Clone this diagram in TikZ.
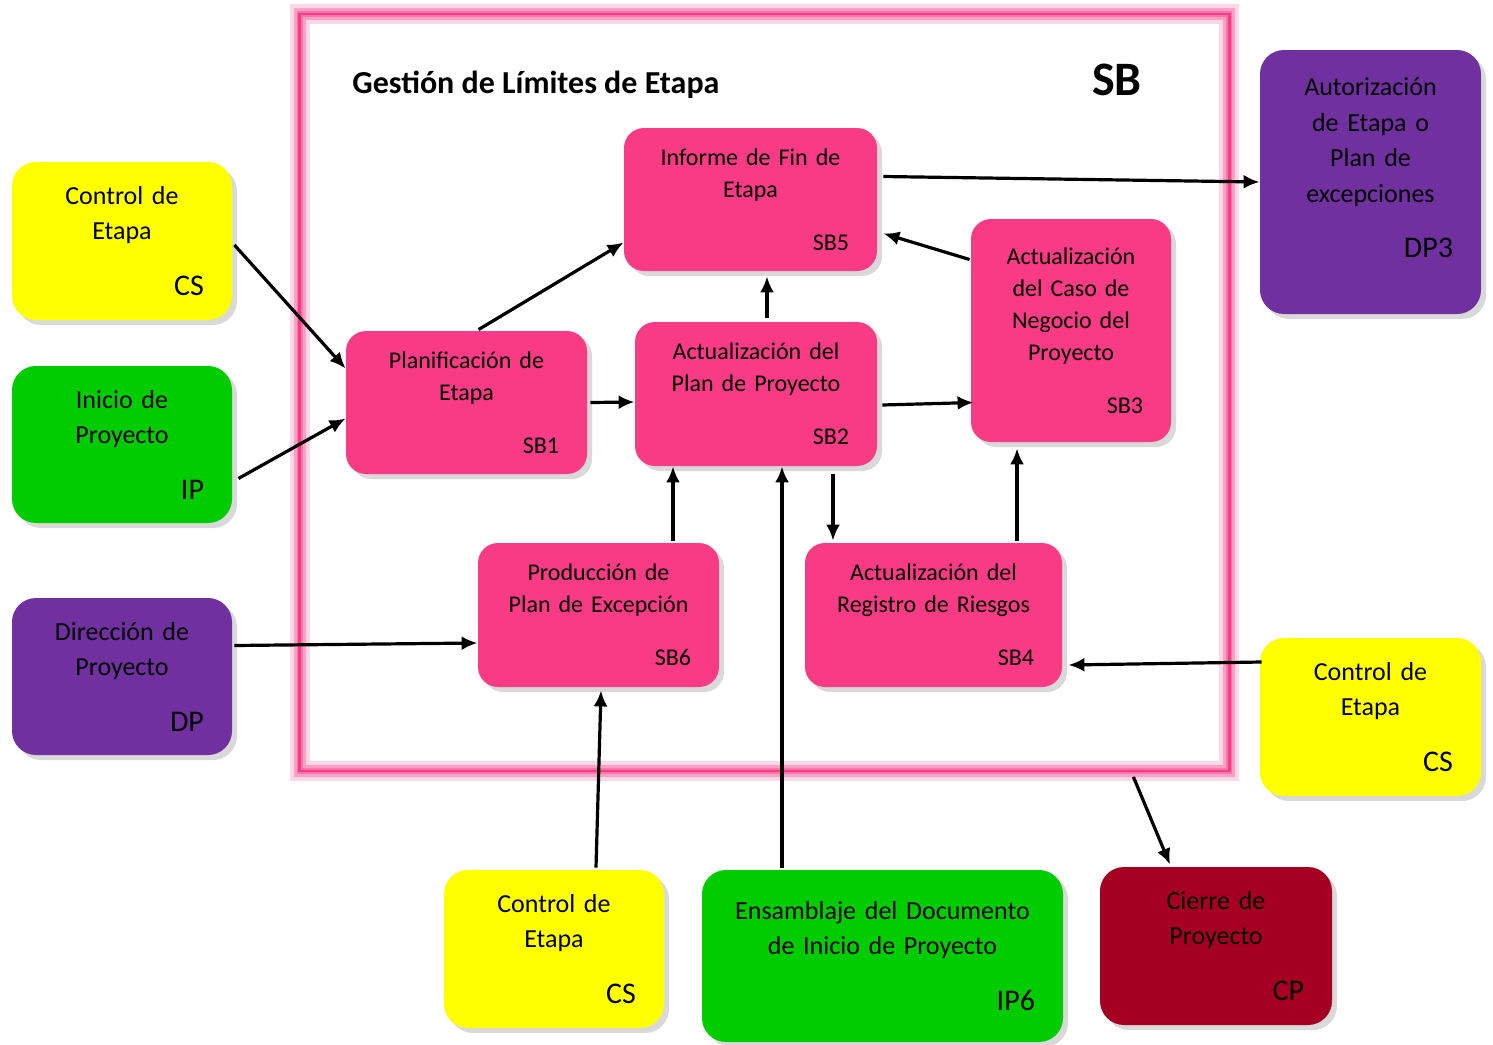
\documentclass[tikz,border=0pt]{standalone}
\usepackage{fontspec}
\setmainfont{Carlito}
\usepackage{tikz}
\usetikzlibrary{calc,shadows,arrows.meta}

\definecolor{rosa}{RGB}{249,58,133}
\definecolor{amarillo}{RGB}{255,255,0}
\definecolor{verde}{RGB}{0,204,0}
\definecolor{morado}{RGB}{112,48,160}
\definecolor{granate}{RGB}{165,0,33}
\definecolor{brillo}{RGB}{253,215,230}
\definecolor{brillomedio}{RGB}{250,160,196}
\definecolor{brillofuerte}{RGB}{248,120,170}

\newcommand{\codigo}[1]{\hspace*{\fill}#1}
\newcommand{\codigog}[1]{\hspace*{\fill}{\fontsize{15}{18}\selectfont #1}}

\tikzset{
  caja/.style={rounded corners=12pt, inner sep=0pt, align=center,
    font=\fontsize{13}{17.75}\selectfont,
    drop shadow={shadow xshift=2.5pt, shadow yshift=-2.5pt, opacity=0.3}},
  cajasb/.style={caja, fill=rosa, rounded corners=10pt,
    font=\fontsize{12}{16}\selectfont},
  flecha/.style={-{Latex[length=8pt,width=7pt]}, line width=1.6pt}
}

\begin{document}
\begin{tikzpicture}[x=0.5pt, y=-0.5pt]
            \useasboundingbox (0,0) rectangle (1493,1044);

            % marco SB
            \node[minimum width=464.5pt, minimum height=378pt, inner sep=0pt] (MARCO) at (764.5,392.5) {};
            \draw[brillo, line width=10pt] (MARCO.south west) rectangle (MARCO.north east);
            \draw[brillomedio, line width=6pt] (MARCO.south west) rectangle (MARCO.north east);
            \draw[brillofuerte, line width=3pt] (MARCO.south west) rectangle (MARCO.north east);
            \draw[rosa, line width=1.2pt] (MARCO.south west) rectangle (MARCO.north east);
            \node[anchor=base west, inner sep=0pt, font=\fontsize{16}{19}\selectfont\bfseries] (TITULO) at (352,93) {Gestión de Límites de Etapa};
            \node[anchor=base east, inner sep=0pt, font=\fontsize{24}{28}\selectfont\bfseries] (SB) at (1142,95) {SB};

            % procesos externos
            \node[caja, fill=amarillo, minimum width=110pt, minimum height=79pt, text width=82pt] (CS1) at (122,241) {Control de\\Etapa\\[10pt]\codigog{CS}};
            \node[caja, fill=verde, minimum width=110pt, minimum height=78.5pt, text width=82pt] (IP) at (122,444.5) {Inicio de\\Proyecto\\[10pt]\codigog{IP}};
            \node[caja, fill=morado, minimum width=110pt, minimum height=78.5pt, text width=82pt] (DP) at (122,676.5) {Dirección de\\Proyecto\\[10pt]\codigog{DP}};
            \node[caja, fill=morado, minimum width=110.5pt, minimum height=132pt, text width=82.5pt] (DP3) at (1370.5,182) {Autorización\\de Etapa o\\Plan de\\excepciones\\[10pt]\codigog{DP3}\rule[-14pt]{0pt}{14pt}};
            \node[caja, fill=amarillo, minimum width=110.5pt, minimum height=79pt, text width=82.5pt] (CSR) at (1370.5,717) {Control de\\Etapa\\[10pt]\codigog{CS}};
            \node[caja, fill=amarillo, minimum width=110pt, minimum height=79pt, text width=82pt] (CSB) at (554,949) {Control de\\Etapa\\[10pt]\codigog{CS}};
            \node[caja, fill=verde, minimum width=180.5pt, minimum height=86pt, text width=152.5pt] (IP6) at (882.5,956) {Ensamblaje del Documento\\de Inicio de Proyecto\\[10pt]\codigog{IP6}};
            \node[caja, fill=granate, minimum width=116pt, minimum height=79pt, text width=88pt] (CP) at (1216,946) {Cierre de\\Proyecto\\[10pt]\codigog{CP}};

            % subprocesos SB
            \node[cajasb, minimum width=126.5pt, minimum height=71.5pt, text width=98.5pt] (SB5) at (750.5,199.5) {Informe de Fin de\\Etapa\\[10.5pt]\codigo{SB5}};
            \node[cajasb, minimum width=120.5pt, minimum height=71.5pt, text width=92.5pt] (SB1) at (466.5,402.5) {Planificación de\\Etapa\\[10.5pt]\codigo{SB1}};
            \node[cajasb, minimum width=121pt, minimum height=72pt, text width=93pt] (SB2) at (756,394) {Actualización del\\Plan de Proyecto\\[10.5pt]\codigo{SB2}};
            \node[cajasb, minimum width=100pt, minimum height=111.5pt, text width=72pt] (SB3) at (1071,330.5) {Actualización\\del Caso de\\Negocio del\\Proyecto\\[10.5pt]\codigo{SB3}};
            \node[cajasb, minimum width=120.5pt, minimum height=72pt, text width=92.5pt] (SB6) at (598.5,615) {Producción de\\Plan de Excepción\\[10.5pt]\codigo{SB6}};
            \node[cajasb, minimum width=128.5pt, minimum height=72pt, text width=100.5pt] (SB4) at (933.5,615) {Actualización del\\Registro de Riesgos\\[10.5pt]\codigo{SB4}};

            % flujos
            \draw[flecha] ($(CS1.east)+(2,4)$) -- ($(SB1.west)+(0,-34)$);
            \draw[flecha] ($(IP.east)+(6,34)$) -- ($(SB1.west)+(0,16)$);
            \draw[flecha] ($(DP.east)+(2,-31)$) -- ($(SB6.west)+(0,28)$);
            \draw[flecha] ($(SB1.north)+(12,-1)$) -- ($(SB5.west)+(0,43)$);
            \draw[flecha] ($(SB1.east)+(3,0)$) -- ($(SB2.west)+(0,8)$);
            \draw[flecha] ($(SB2.north)+(11,-4)$) -- ($(SB5.south)+(16.5,5)$);
            \draw[flecha] ($(SB3.west)+(-1,-71)$) -- ($(SB5.east)+(6,34)$);
            \draw[flecha] ($(SB5.east)+(6,-23)$) -- (DP3.west);
            \draw[flecha] ($(SB2.east)+(5,11)$) -- ($(SB3.west)+(3,72)$);
            \draw[flecha] ($(SB2.south)+(77,8)$) -- ($(SB4.north)+(-100.5,-2)$);
            \draw[flecha] ($(SB4.north)+(83.5,-2)$) -- ($(SB3.south)+(-54,6)$);
            \draw[flecha] ($(SB6.north)+(74.5,-2)$) -- ($(SB2.south)+(-83,0)$);
            \draw[flecha] ($(IP6.north)+(-100.5,-2)$) -- ($(SB2.south)+(26,0)$);
            \draw[flecha] ($(CSB.north)+(42,-2)$) -- ($(SB6.south)+(2.5,3)$);
            \draw[flecha] ($(CSR.west)+(2,-55)$) -- ($(SB4.east)+(6,50)$);
            \draw[flecha] ($(MARCO.south east)+(-96,6)$) -- ($(CP.north)+(-46,-2)$);
        \end{tikzpicture}
\end{document}
